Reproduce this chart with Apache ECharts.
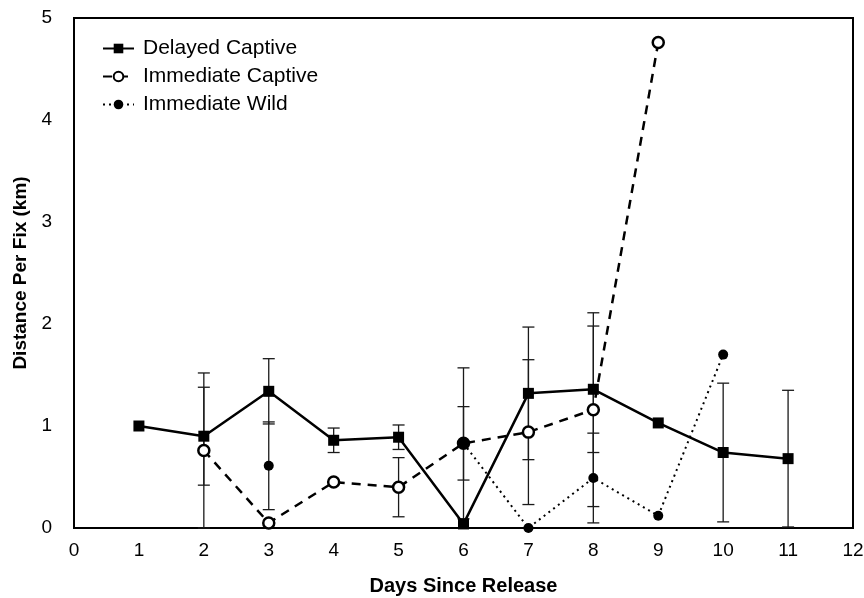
<!DOCTYPE html>
<html>
<head>
<meta charset="utf-8">
<script src="https://cdn.jsdelivr.net/npm/echarts@6/dist/echarts.min.js"></script>
<style>
html,body{margin:0;padding:0;background:#fff;}
#chart{width:864px;height:598px;}
</style>
</head>
<body>
<div id="chart"></div>
<script>
var days = [1, 2, 3, 4, 5, 6, 7, 8, 9, 10, 11];
var xTicks = [0, 1, 2, 3, 4, 5, 6, 7, 8, 9, 10, 11, 12];
var yTicks = [0, 1, 2, 3, 4, 5];
var delayedCaptive    = [1.00, 0.90, 1.34, 0.86, 0.89, 0.04, 1.32, 1.36, 1.03, 0.74, 0.68];
var delayedCaptiveErr = [null, 0.48, 0.32, 0.12, 0.12, null, 0.65, 0.62, null, 0.68, 0.67];
var immediateCaptive    = [null, 0.76, 0.05, 0.45, 0.40, 0.83, 0.94, 1.16, 4.76, null, null];
var immediateCaptiveErr = [null, 0.76, null, null, 0.29, 0.74, 0.71, 0.95, null, null, null];
var immediateWild    = [null, null, 0.61, null, null, 0.83, 0.00, 0.49, 0.12, 1.70, null];
var immediateWildErr = [null, null, 0.43, null, null, 0.36, null, 0.44, null, null, null];

var FONT = "'Liberation Sans', Arial, sans-serif";

function pairs(vals) {
  return days.map(function (d, i) { return [d, vals[i]]; });
}
function errData(vals, errs) {
  var out = [];
  days.forEach(function (d, i) {
    if (vals[i] != null && errs[i] != null) {
      out.push([d, Math.max(0, vals[i] - errs[i]), vals[i] + errs[i]]);
    }
  });
  return out;
}
var allErr = errData(delayedCaptive, delayedCaptiveErr)
  .concat(errData(immediateCaptive, immediateCaptiveErr))
  .concat(errData(immediateWild, immediateWildErr));

function renderErr(params, api) {
  var x = api.value(0);
  var lo = api.coord([x, api.value(1)]);
  var hi = api.coord([x, api.value(2)]);
  var hw = 6;
  var st = { stroke: '#1a1a1a', lineWidth: 1.3 };
  return {
    type: 'group',
    children: [
      { type: 'line', shape: { x1: lo[0], y1: lo[1], x2: hi[0], y2: hi[1] }, style: st },
      { type: 'line', shape: { x1: hi[0] - hw, y1: hi[1], x2: hi[0] + hw, y2: hi[1] }, style: st },
      { type: 'line', shape: { x1: lo[0] - hw, y1: lo[1], x2: lo[0] + hw, y2: lo[1] }, style: st }
    ]
  };
}

var chart = echarts.init(document.getElementById('chart'), null, { renderer: 'canvas' });
chart.setOption({
  animation: false,
  backgroundColor: '#fff',
  textStyle: { fontFamily: FONT },
  grid: {
    left: 74, right: 11, top: 18, bottom: 70,
    outerBoundsMode: 'none', containLabel: false,
    show: true, borderColor: '#000', borderWidth: 2, backgroundColor: 'transparent'
  },
  legend: {
    orient: 'vertical',
    left: 97, top: 33,
    itemWidth: 31, itemHeight: 12, itemGap: 7,
    textStyle: { fontFamily: FONT, fontSize: 21, color: '#000', padding: [0, 0, 0, 4] },
    data: ['Delayed Captive', 'Immediate Captive', 'Immediate Wild']
  },
  xAxis: {
    type: 'value', min: xTicks[0], max: xTicks[xTicks.length - 1], interval: 1,
    name: 'Days Since Release', nameLocation: 'middle', nameGap: 48,
    nameTextStyle: { fontFamily: FONT, fontSize: 20, fontWeight: 'bold', color: '#000' },
    axisLine: { lineStyle: { color: '#000', width: 2 } },
    axisTick: { show: false },
    splitLine: { show: false },
    axisLabel: { fontFamily: FONT, fontSize: 19, color: '#000', margin: 13 }
  },
  yAxis: {
    type: 'value', min: yTicks[0], max: yTicks[yTicks.length - 1], interval: 1,
    name: 'Distance Per Fix (km)', nameLocation: 'middle', nameGap: 33,
    nameTextStyle: { fontFamily: FONT, fontSize: 19, fontWeight: 'bold', color: '#000' },
    axisLine: { show: true, lineStyle: { color: '#000', width: 2 } },
    axisTick: { show: false },
    splitLine: { show: false },
    axisLabel: { fontFamily: FONT, fontSize: 19, color: '#000', margin: 22 }
  },
  series: [
    {
      type: 'custom', name: 'errors', renderItem: renderErr, data: allErr, z: 1,
      encode: { x: 0, y: [1, 2] }, silent: true
    },
    {
      name: 'Delayed Captive', type: 'line', data: pairs(delayedCaptive), z: 3,
      symbol: 'rect', symbolSize: 11,
      itemStyle: { color: '#000' },
      lineStyle: { color: '#000', width: 2.5, type: 'solid' }
    },
    {
      name: 'Immediate Captive', type: 'line', data: pairs(immediateCaptive), z: 4,
      symbol: 'circle', symbolSize: 11,
      itemStyle: { color: '#fff', borderColor: '#000', borderWidth: 2.5 },
      lineStyle: { color: '#000', width: 2.5, type: [9, 7] }
    },
    {
      name: 'Immediate Wild', type: 'line', data: pairs(immediateWild), z: 5,
      symbol: 'circle', symbolSize: 10,
      itemStyle: { color: '#000', borderColor: '#000', borderWidth: 0 },
      lineStyle: { color: '#000', width: 2, type: [2, 4] }
    }
  ]
});
</script>
</body>
</html>
